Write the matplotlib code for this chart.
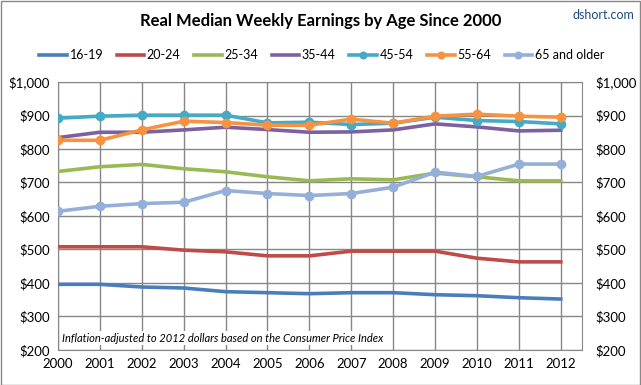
import matplotlib
matplotlib.use('Agg')
import matplotlib.pyplot as plt
from matplotlib.ticker import FuncFormatter

plt.rcParams['font.family'] = ['Lato', 'DejaVu Sans']

years = list(range(2000, 2013))

# Real median weekly earnings (2012 dollars)
age_16_19 = [396, 396, 388, 385, 374, 371, 368, 371, 371, 365, 362, 356, 352]
age_20_24 = [508, 508, 508, 498, 493, 481, 481, 495, 495, 495, 474, 463, 463]
age_25_34 = [733, 747, 754, 741, 732, 717, 705, 711, 708, 728, 717, 705, 705]
age_35_44 = [834, 850, 850, 857, 865, 858, 850, 851, 857, 875, 866, 854, 856]
age_45_54 = [892, 898, 901, 901, 901, 878, 880, 873, 877, 895, 885, 882, 875]
age_55_64 = [826, 826, 857, 883, 879, 871, 871, 889, 877, 898, 904, 898, 895]
age_65_up = [614, 629, 637, 641, 676, 667, 661, 667, 686, 731, 718, 755, 755]

series = [
    ('16-19', age_16_19, '#4A7EBB', False),
    ('20-24', age_20_24, '#BE4B48', False),
    ('25-34', age_25_34, '#98B954', False),
    ('35-44', age_35_44, '#7D60A0', False),
    ('45-54', age_45_54, '#46AAC5', True),
    ('55-64', age_55_64, '#F69240', True),
    ('65 and older', age_65_up, '#95B0D8', True),
]

fig = plt.figure(figsize=(6.41, 3.85), dpi=100)
ax = fig.add_axes([0.0905, 0.091, 0.817, 0.696])

for label, vals, color, marker in series:
    ax.plot(years, vals, color=color, lw=2.6, label=label,
            marker='o' if marker else None, markersize=6, zorder=3)

ax.set_xlim(2000, 2012.5)
ax.set_ylim(200, 1000)
ax.set_xticks(years)
ax.set_yticks(range(200, 1001, 100))
ax.grid(True, color='#878787', lw=1)
ax.set_axisbelow(True)
for s in ax.spines.values():
    s.set_color('#878787')
ax.tick_params(length=0, labelsize=9.5, pad=6)

money = FuncFormatter(lambda v, p: '${:,.0f}'.format(v))
ax.yaxis.set_major_formatter(money)

ax2 = ax.twinx()
ax2.set_ylim(200, 1000)
ax2.set_yticks(range(200, 1001, 100))
ax2.yaxis.set_major_formatter(money)
ax2.tick_params(length=0, labelsize=9.5, pad=10)
for s in ax2.spines.values():
    s.set_visible(False)

ax.text(2000.1, 225, 'Inflation-adjusted to 2012 dollars based on the Consumer Price Index',
        fontsize=8, style='italic', zorder=4,
        bbox=dict(facecolor='white', edgecolor='none', pad=1))

fig.text(0.5, 0.945, 'Real Median Weekly Earnings by Age Since 2000',
         ha='center', va='center', fontsize=12, fontweight='bold')
fig.text(0.99, 0.962, 'dshort.com', ha='right', va='center',
         fontsize=9, color='#1F497D')

fig.legend(loc='center', bbox_to_anchor=(0.502, 0.857), ncol=7, frameon=False,
           fontsize=9, handlelength=2.2, handletextpad=0.2, columnspacing=1.1,
           markerscale=0.8)

fig.patches.append(plt.Rectangle((0.001, 0.001), 0.997, 0.997, transform=fig.transFigure,
                                 fill=False, edgecolor='#878787', lw=1))

plt.savefig('out.png', dpi=100)
